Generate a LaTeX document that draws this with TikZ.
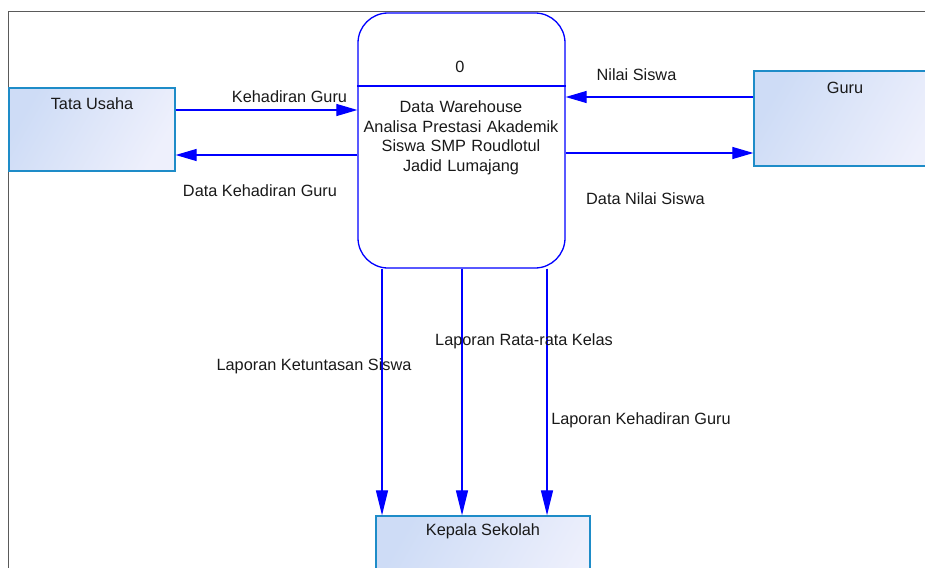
\documentclass[tikz,border=0pt]{standalone}
\usepackage{fontspec}
\setmainfont{Liberation Sans}
\usetikzlibrary{arrows.meta}
\definecolor{flowblue}{RGB}{0,0,255}
\definecolor{entborder}{RGB}{30,140,200}
\definecolor{entA}{RGB}{206,220,246}
\definecolor{entB}{RGB}{238,240,252}
\definecolor{framegray}{RGB}{90,90,90}
\tikzset{
  entity/.style={draw=entborder, line width=1.3pt, left color=entA, right color=entB, shading angle=60, rectangle, inner sep=0pt},
  proc/.style={draw=flowblue, line width=1.3pt, rounded corners=30pt, rectangle, fill=white, minimum width=207pt, minimum height=255pt, inner sep=0pt},
  txt/.style={font=\fontsize{16.3}{19.5}\selectfont, text=black!90, inner sep=0pt},
  hflow/.style={draw=flowblue, line width=1.2pt, -{Triangle[length=21pt,width=12pt]}, fill=flowblue},
  vflow/.style={draw=flowblue, line width=1.2pt, -{Triangle[length=25pt,width=12pt]}, fill=flowblue},
}
\begin{document}
\begin{tikzpicture}[x=1pt,y=-1pt]
\useasboundingbox (0,0) rectangle (925,567);
\begin{scope}
\clip (0,0) rectangle (925,567);
% frame
\draw[framegray, line width=1pt] (8,580) -- (8,12) -- (940,12);
% entities
\node[entity, minimum width=166pt, minimum height=83pt] (tu) at (92,129.5) {};
\node[entity, minimum width=190pt, minimum height=95pt] (guru) at (849,118.5) {};
\node[entity, minimum width=214pt, minimum height=100pt] (ks) at (483,566) {};
\node[txt] (tut) at (92,104) {Tata Usaha};
\node[txt] (gurut) at (845,88) {Guru};
\node[txt] (kst) at (483,531) {Kepala Sekolah};
% process
\node[proc] (p) at (461.5,140.5) {};
\coordinate (dv) at (0,86);
\draw[flowblue, line width=1.3pt] (p.west |- dv) -- (p.east |- dv);
\node[txt] (pid) at (460,67) {0};
\node[txt, align=center, text width=220pt] (pname) at (461,138) {Data Warehouse\\Analisa Prestasi Akademik\\Siswa SMP Roudlotul\\Jadid Lumajang};
% horizontal flows
\coordinate (y1) at (0,110);
\coordinate (y2) at (0,155);
\coordinate (y3) at (0,97);
\coordinate (y4) at (0,153);
\draw[hflow] (tu.east |- y1) -- (p.west |- y1);
\draw[hflow] (p.west |- y2) -- (tu.east |- y2);
\draw[hflow] (guru.west |- y3) -- (p.east |- y3);
\draw[hflow] (p.east |- y4) -- (guru.west |- y4);
% vertical flows
\coordinate (x1) at (382,0);
\coordinate (x2) at (462,0);
\coordinate (x3) at (547,0);
\draw[vflow] (p.south -| x1) -- (ks.north -| x1);
\draw[vflow] (p.south -| x2) -- (ks.north -| x2);
\draw[vflow] (p.south -| x3) -- (ks.north -| x3);
% labels
\node[txt] (l1) at (289.5,97) {Kehadiran Guru};
\node[txt] (l2) at (260,191) {Data Kehadiran Guru};
\node[txt] (l3) at (636.5,75) {Nilai Siswa};
\node[txt] (l4) at (645.5,199) {Data Nilai Siswa};
\node[txt] (l5) at (314,366) {Laporan Ketuntasan Siswa};
\node[txt] (l6) at (524,341) {Laporan Rata-rata Kelas};
\node[txt] (l7) at (641,420) {Laporan Kehadiran Guru};
\end{scope}
\end{tikzpicture}
\end{document}
